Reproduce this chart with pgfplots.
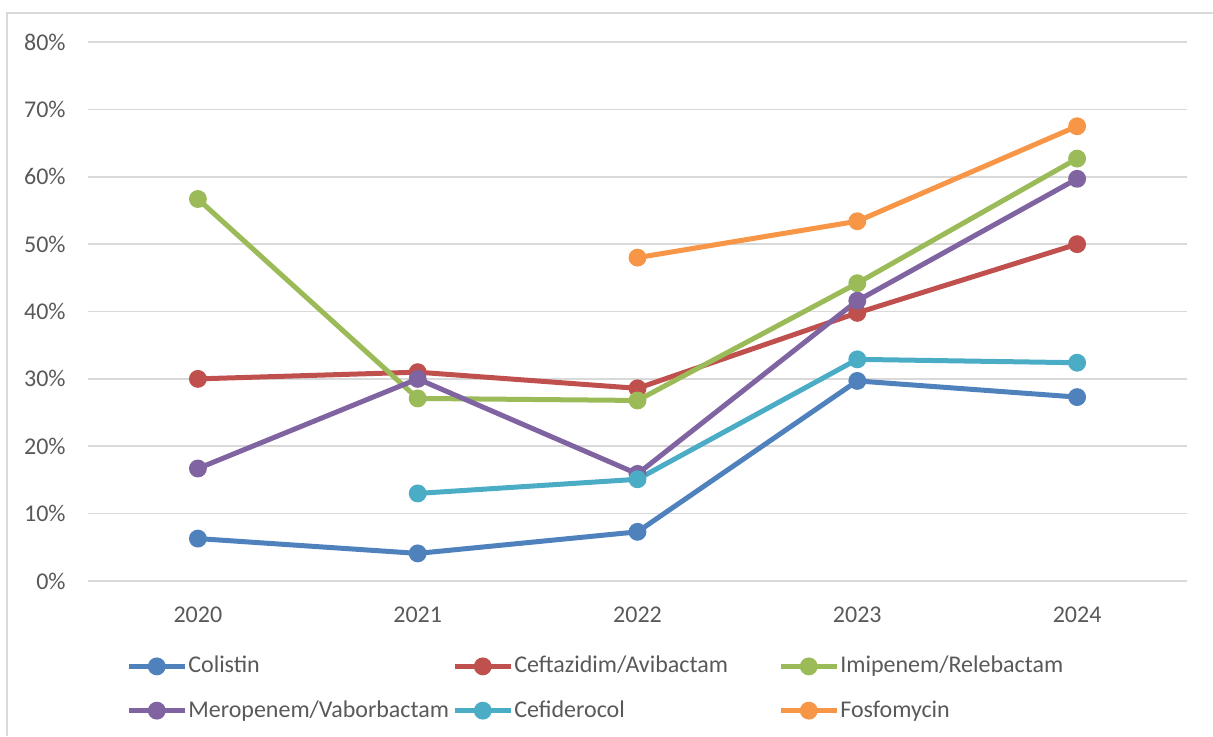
\documentclass[border=0pt]{standalone}
\usepackage{pgfplots}
\pgfplotsset{compat=1.18}
\usepackage{fontspec}
\setmainfont{Carlito}
\definecolor{cBlue}{HTML}{4F81BD}
\definecolor{cRed}{HTML}{C0504D}
\definecolor{cGreen}{HTML}{9BBB59}
\definecolor{cPurple}{HTML}{8064A2}
\definecolor{cAqua}{HTML}{4BACC6}
\definecolor{cOrange}{HTML}{F79646}
\definecolor{txt}{HTML}{595959}
\definecolor{gridc}{HTML}{D9D9D9}
\newcommand{\legtext}[1]{\makebox[131.5pt][l]{#1}}
\begin{document}
\begin{tikzpicture}
\fontsize{12pt}{14pt}\selectfont
\path (0,0) rectangle (606.5pt,-368pt);
\draw[gridc, line width=0.6pt] (3.5pt,-368pt) -- (3.5pt,-6.5pt) -- (606.5pt,-6.5pt);
\begin{axis}[
  at={(44pt,-290.5pt)}, anchor=south west,
  scale only axis, width=549.5pt, height=269.5pt,
  xmin=-0.5, xmax=4.5, ymin=0, ymax=80,
  xtick={0,1,2,3,4}, xticklabels={2020,2021,2022,2023,2024},
  ytick={0,10,...,80}, yticklabel={\pgfmathprintnumber{\tick}\%},
  /pgf/number format/assume math mode=true,
  axis line style={draw=none},
  major tick length=0pt,
  ymajorgrids, grid style={gridc, line width=0.8pt},
  tick label style={text=txt, font=\fontsize{12pt}{14pt}\selectfont},
  yticklabel style={xshift=-7pt},
  xticklabel style={yshift=-9pt},
  every axis plot/.append style={line width=2.5pt, mark=*, mark size=3.2pt},
  legend columns=3,
  legend style={at={(0.0345,-0.137)}, anchor=north west, draw=none, fill=none,
    text=txt, font=\fontsize{12pt}{14pt}\selectfont,
    row sep=11pt, inner sep=0pt, nodes={inner sep=0.5pt}},
  legend cell align=left,
  legend image code/.code={\draw[mark repeat=2, mark phase=2] plot coordinates {(0pt,0pt)(14pt,0pt)(28pt,0pt)};},
]
\addplot[cBlue] coordinates {(0,6.3)(1,4.1)(2,7.3)(3,29.7)(4,27.3)};
\addlegendentry{\legtext{Colistin}}
\addplot[cRed] coordinates {(0,30.0)(1,31.0)(2,28.6)(3,39.8)(4,50.0)};
\addlegendentry{\legtext{Ceftazidim/Avibactam}}
\addplot[cGreen] coordinates {(0,56.7)(1,27.1)(2,26.8)(3,44.2)(4,62.7)};
\addlegendentry{\legtext{Imipenem/Relebactam}}
\addplot[cPurple] coordinates {(0,16.7)(1,30.0)(2,15.9)(3,41.6)(4,59.7)};
\addlegendentry{\legtext{Meropenem/Vaborbactam}}
\addplot[cAqua] coordinates {(1,13.0)(2,15.1)(3,32.9)(4,32.4)};
\addlegendentry{\legtext{Cefiderocol}}
\addplot[cOrange] coordinates {(2,48.0)(3,53.4)(4,67.5)};
\addlegendentry{\legtext{Fosfomycin}}
\end{axis}
\pgfresetboundingbox
\useasboundingbox (0,0) rectangle (606.5pt,-368pt);
\end{tikzpicture}
\end{document}
